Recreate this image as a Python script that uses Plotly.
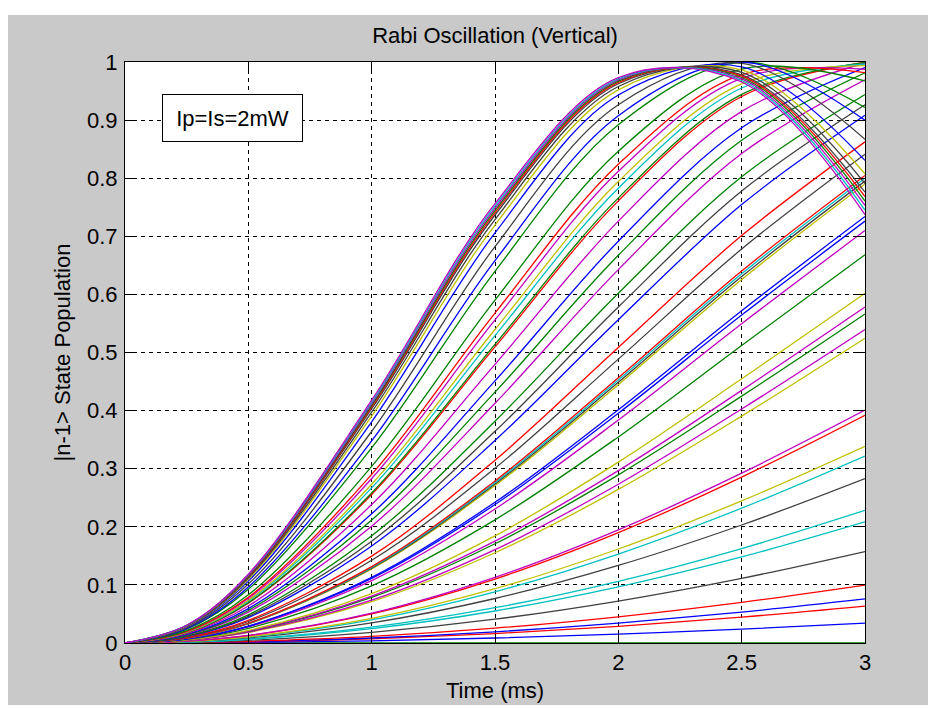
import plotly.graph_objects as go

# ---------------- data ----------------
time_ms = [0, 0.25, 0.5, 1.0, 1.5, 2.0, 2.5, 3.0]

x_ticks = [0, 0.5, 1, 1.5, 2, 2.5, 3]
x_tick_labels = ["0", "0.5", "1", "1.5", "2", "2.5", "3"]
y_ticks = [0, 0.1, 0.2, 0.3, 0.4, 0.5, 0.6, 0.7, 0.8, 0.9, 1]
y_tick_labels = ["0", "0.1", "0.2", "0.3", "0.4", "0.5", "0.6", "0.7", "0.8", "0.9", "1"]

# slow curves (still rising at t = 3 ms, end value below ~0.74)
slow_colors = ["g", "b", "r", "b", "r", "k", "c", "c", "k", "c", "y",
               "r", "m", "y", "m", "g", "m", "y", "g", "m", "b", "b"]
slow_curves = [
    [0, 0, 0, 0, 0, 0, 0, 0],
    [0, 0.0002, 0.001, 0.0038, 0.0086, 0.0153, 0.0238, 0.0342],
    [0, 0.0005, 0.0018, 0.0072, 0.0162, 0.0286, 0.0445, 0.0636],
    [0, 0.0005, 0.0022, 0.0086, 0.0193, 0.0342, 0.0531, 0.0758],
    [0, 0.0007, 0.0029, 0.0114, 0.0255, 0.0451, 0.0699, 0.0996],
    [0, 0.0012, 0.0046, 0.0184, 0.041, 0.0722, 0.1112, 0.1574],
    [0, 0.0016, 0.0062, 0.0248, 0.0551, 0.0966, 0.1481, 0.2084],
    [0, 0.0017, 0.0069, 0.0273, 0.0607, 0.1062, 0.1626, 0.2282],
    [0, 0.0022, 0.0087, 0.0346, 0.0766, 0.1335, 0.2031, 0.2831],
    [0, 0.0025, 0.0101, 0.0399, 0.0882, 0.1531, 0.232, 0.3216],
    [0, 0.0027, 0.0107, 0.0422, 0.0934, 0.1618, 0.2447, 0.3386],
    [0, 0.0032, 0.0127, 0.05, 0.1101, 0.19, 0.2855, 0.392],
    [0, 0.0033, 0.013, 0.0513, 0.113, 0.1947, 0.2923, 0.4008],
    [0, 0.0046, 0.0181, 0.0712, 0.1553, 0.2643, 0.3905, 0.5246],
    [0, 0.0047, 0.0188, 0.0737, 0.1607, 0.2732, 0.4027, 0.5396],
    [0, 0.005, 0.02, 0.0785, 0.1708, 0.2894, 0.4249, 0.5664],
    [0, 0.0052, 0.0206, 0.0807, 0.1753, 0.2967, 0.4348, 0.5783],
    [0, 0.0055, 0.0218, 0.0851, 0.1845, 0.3114, 0.4547, 0.6019],
    [0, 0.0064, 0.0252, 0.0984, 0.212, 0.3547, 0.5121, 0.6683],
    [0, 0.007, 0.0276, 0.1075, 0.2307, 0.3837, 0.5495, 0.7099],
    [0, 0.0072, 0.0286, 0.1112, 0.2383, 0.3954, 0.5644, 0.7261],
    [0, 0.0073, 0.0291, 0.1131, 0.2422, 0.4013, 0.5719, 0.7341],
]

# middle curves (near their maximum around t = 3 ms)
mid_colors = ["y", "k", "c", "r", "k", "r", "b", "k", "g", "m", "g", "b", "m"]
mid_curves = [
    [0, 0.0083, 0.0329, 0.1274, 0.271, 0.4447, 0.6257, 0.7901],
    [0, 0.0084, 0.0333, 0.1288, 0.2737, 0.4487, 0.6306, 0.795],
    [0, 0.0085, 0.0337, 0.1301, 0.2763, 0.4527, 0.6354, 0.7999],
    [0, 0.0086, 0.034, 0.1314, 0.279, 0.4567, 0.6402, 0.8047],
    [0, 0.0093, 0.037, 0.1424, 0.3008, 0.4886, 0.6781, 0.8413],
    [0, 0.0098, 0.0389, 0.1495, 0.3146, 0.5086, 0.7012, 0.8625],
    [0, 0.011, 0.0437, 0.167, 0.3485, 0.5565, 0.7546, 0.9082],
    [0, 0.0116, 0.0459, 0.1753, 0.3643, 0.5783, 0.7779, 0.9263],
    [0, 0.0123, 0.0485, 0.1845, 0.3817, 0.6019, 0.8023, 0.944],
    [0, 0.0135, 0.0531, 0.2011, 0.4126, 0.6426, 0.8424, 0.9695],
    [0, 0.0142, 0.056, 0.2116, 0.4318, 0.6673, 0.8653, 0.9814],
    [0, 0.015, 0.0591, 0.2223, 0.4512, 0.6916, 0.8867, 0.9905],
    [0, 0.0162, 0.0636, 0.2383, 0.4796, 0.7261, 0.915, 0.9983],
]

# fast curves (peak before t = 3 ms and turn down)
fast_colors = ["r", "g", "c", "y", "m", "r", "g", "g", "b", "k",
               "b", "y", "k", "k", "r", "g", "m", "c", "m"]
fast_curves = [
    [0, 0.0175, 0.0686, 0.2556, 0.5096, 0.761, 0.9407, 0.9996],
    [0, 0.0177, 0.0694, 0.2582, 0.5141, 0.7661, 0.9442, 0.9992],
    [0, 0.0183, 0.0719, 0.267, 0.5291, 0.7828, 0.9552, 0.9966],
    [0, 0.0188, 0.0737, 0.2732, 0.5396, 0.7942, 0.9622, 0.9937],
    [0, 0.0195, 0.0766, 0.2831, 0.556, 0.8118, 0.972, 0.9875],
    [0, 0.0201, 0.0788, 0.2903, 0.5679, 0.8241, 0.9782, 0.9816],
    [0, 0.0212, 0.0829, 0.304, 0.5901, 0.8464, 0.9878, 0.9675],
    [0, 0.0237, 0.0925, 0.3357, 0.6397, 0.892, 0.9993, 0.9219],
    [0, 0.0247, 0.0963, 0.348, 0.6583, 0.9076, 1.0, 0.8997],
    [0, 0.026, 0.1014, 0.3643, 0.6823, 0.9264, 0.9976, 0.867],
    [0, 0.0274, 0.1065, 0.3808, 0.7058, 0.9431, 0.9916, 0.8306],
    [0, 0.0282, 0.1097, 0.3905, 0.7194, 0.952, 0.9864, 0.8075],
    [0, 0.0288, 0.1118, 0.3973, 0.7288, 0.9579, 0.9821, 0.7909],
    [0, 0.0293, 0.1137, 0.4032, 0.7367, 0.9626, 0.9779, 0.7759],
    [0, 0.0296, 0.1147, 0.4062, 0.7407, 0.9648, 0.9757, 0.7683],
    [0, 0.0298, 0.1157, 0.4091, 0.7446, 0.967, 0.9733, 0.7607],
    [0, 0.0301, 0.1166, 0.4121, 0.7485, 0.9691, 0.9708, 0.7531],
    [0, 0.0303, 0.1176, 0.415, 0.7524, 0.9711, 0.9682, 0.7451],
    [0, 0.0306, 0.1186, 0.418, 0.7563, 0.9731, 0.9656, 0.7373],
]

title_text = "Rabi Oscillation (Vertical)"
x_label = "Time (ms)"
y_label = "|n-1> State Population"
note_text = "Ip=Is=2mW"

# ---------------- styling ----------------
matlab_colors = {
    "b": "#0000FF", "g": "#008000", "r": "#FF0000", "c": "#00BFBF",
    "m": "#BF00BF", "y": "#BFBF00", "k": "#404040",
}
FONT = "Liberation Sans, Arial, Helvetica, sans-serif"
FS = 22

fig = go.Figure()
for group_curves, group_colors in [(slow_curves, slow_colors),
                                   (mid_curves, mid_colors),
                                   (fast_curves, fast_colors)]:
    for vals, col in zip(group_curves, group_colors):
        fig.add_trace(go.Scatter(
            x=time_ms, y=vals, mode="lines",
            line=dict(color=matlab_colors[col], width=1.3, shape="spline"),
            hoverinfo="skip", showlegend=False,
        ))

# the page body has an 8px margin, so the figure is placed at (8, 8)
OFF = 8
W, H = 936 - OFF, 709 - OFF
L, T = 125 - OFF, 62 - OFF
R, B = W - (865 - OFF), H - (643 - OFF)
pw, ph = W - L - R, H - T - B


def px_to_paper_x(px):
    return (px - OFF - L) / pw


def px_to_paper_y(py):
    return (H - B - (py - OFF)) / ph


axis_common = dict(
    showline=True, linecolor="black", linewidth=1, mirror="ticks",
    ticks="inside", ticklen=9, tickcolor="black", tickwidth=1,
    showgrid=True, gridcolor="black", gridwidth=1, griddash="4px,4px",
    zeroline=False,
    tickfont=dict(family=FONT, size=FS, color="black"),
)

fig.update_xaxes(range=[0, 3], tickmode="array", tickvals=x_ticks,
                 ticktext=x_tick_labels, **axis_common)
fig.update_yaxes(range=[0, 1], tickmode="array", tickvals=y_ticks,
                 ticktext=y_tick_labels, ticklabelstandoff=2, **axis_common)

fig.update_layout(
    width=W, height=H,
    margin=dict(l=L, r=R, t=T, b=B),
    paper_bgcolor="white", plot_bgcolor="white",
    showlegend=False,
    title=dict(text=title_text, x=0.5, xref="paper", xanchor="center",
               y=1 - (35 - OFF) / H, yref="container", yanchor="middle",
               font=dict(family=FONT, size=FS, color="black")),
    shapes=[
        dict(type="rect", xref="paper", yref="paper", layer="below",
             x0=px_to_paper_x(8), x1=px_to_paper_x(928),
             y0=px_to_paper_y(705), y1=px_to_paper_y(15),
             fillcolor="#c9c9c9", line=dict(width=0)),
        dict(type="rect", xref="paper", yref="paper", layer="below",
             x0=0, x1=1, y0=0, y1=1,
             fillcolor="white", line=dict(width=0)),
    ],
    annotations=[
        dict(text=x_label, xref="paper", yref="paper", x=0.5,
             y=px_to_paper_y(690), xanchor="center", yanchor="middle",
             showarrow=False, font=dict(family=FONT, size=FS, color="black")),
        dict(text=y_label, xref="paper", yref="paper", x=px_to_paper_x(62),
             y=0.5, xanchor="center", yanchor="middle", textangle=-90,
             showarrow=False, font=dict(family=FONT, size=FS, color="black")),
        dict(text=note_text, xref="paper", yref="paper",
             x=px_to_paper_x(232), y=px_to_paper_y(118),
             xanchor="center", yanchor="middle", showarrow=False,
             bgcolor="white", bordercolor="black", borderwidth=1,
             borderpad=0, width=139, height=46,
             font=dict(family=FONT, size=FS, color="black")),
    ],
)

fig.write_html("out.html")
